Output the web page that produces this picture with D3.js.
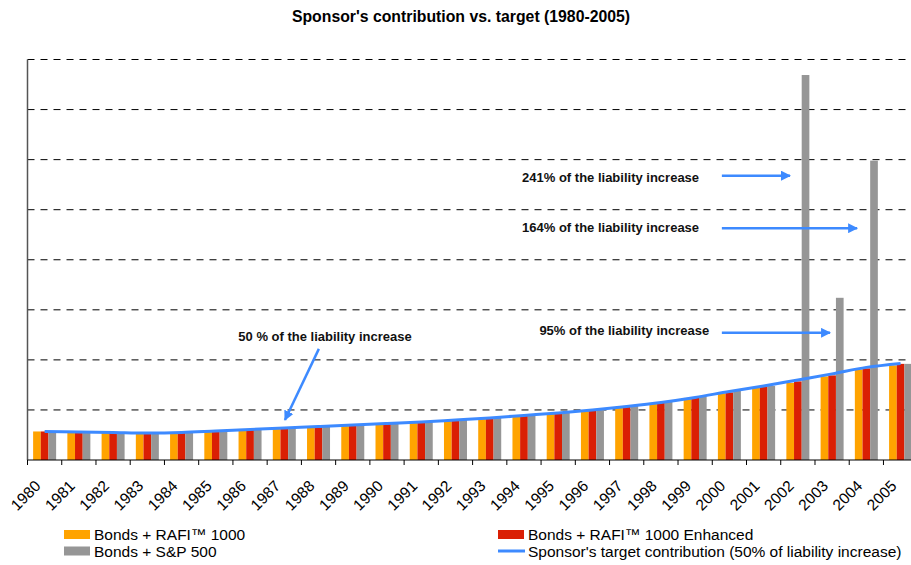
<!DOCTYPE html>
<html>
<head>
<meta charset="utf-8">
<script src="https://cdn.jsdelivr.net/npm/d3@7"></script>
<style>
  body { margin: 0; background: #fff; }
  svg { font-family: Arial, "Liberation Sans", sans-serif; }
</style>
</head>
<body>
<svg id="chart" width="911" height="565"></svg>
<script>
// categories
const years = d3.range(1980, 2006).map(String);
const seriesKeys = ["rafi", "enhanced", "sp500"];
const seriesNames = ["Bonds + RAFI\u2122 1000", "Bonds + RAFI\u2122 1000 Enhanced", "Bonds + S&P 500"];
const seriesColors = ["#FFA300", "#DA1F04", "#969696"];

// values, in units of one gridline step (axis has no labels)
const rafi =     [0.57,0.57,0.54,0.54,0.56,0.59,0.62,0.64,0.66,0.69,0.72,0.75,0.79,0.82,0.88,0.92,0.99,1.06,1.14,1.24,1.33,1.45,1.54,1.67,1.81,1.89];
const enhanced = [0.57,0.57,0.54,0.54,0.56,0.59,0.62,0.64,0.67,0.70,0.73,0.76,0.80,0.84,0.89,0.94,1.00,1.08,1.15,1.25,1.35,1.47,1.57,1.69,1.83,1.92];
const sp500 =    [0.57,0.57,0.54,0.54,0.56,0.59,0.63,0.65,0.68,0.71,0.74,0.77,0.81,0.85,0.90,0.95,1.02,1.09,1.17,1.27,1.38,1.48,7.69,3.24,5.98,1.92];
const target =   [0.57,0.56,0.55,0.54,0.55,0.58,0.61,0.64,0.67,0.70,0.73,0.76,0.80,0.84,0.89,0.94,1.00,1.07,1.15,1.25,1.37,1.48,1.60,1.72,1.85,1.93];
const gridTicks = [1,2,3,4,5,6,7,8];

// annotations: slot index (x) and value (y)
const notes = [
  {text: "50 % of the liability increase", tx: 8.69, ty: 2.46, x1: 8.51, y1: 2.22, x2: 7.52, y2: 0.80},
  {text: "241% of the liability increase", tx: 17.03, ty: 5.65, x1: 20.28, y1: 5.68, x2: 22.27, y2: 5.68},
  {text: "164% of the liability increase", tx: 17.03, ty: 4.64, x1: 20.28, y1: 4.63, x2: 24.23, y2: 4.63},
  {text: "95% of the liability increase", tx: 17.43, ty: 2.58, x1: 20.28, y1: 2.54, x2: 23.44, y2: 2.54}
];

const rows = years.map((y, i) => ({year: y, rafi: rafi[i], enhanced: enhanced[i], sp500: sp500[i], target: target[i]}));

const svg = d3.select("#chart");
const plotLeft = 27.5, plotRight = 917.7, plotTop = 59.5, plotBottom = 460;

const xSlot = d3.scaleBand().domain(years).range([plotLeft, plotRight]).padding(0);
const xIdx = d3.scaleLinear().domain([0, years.length]).range([plotLeft, plotRight]);
const groupW = 23;
const xSub = d3.scaleBand().domain(seriesKeys).range([(xSlot.bandwidth() - groupW) / 2, (xSlot.bandwidth() + groupW) / 2]);
const y = d3.scaleLinear().domain([0, 8]).range([plotBottom, plotTop]);
const color = d3.scaleOrdinal().domain(seriesKeys).range(seriesColors);

// title
svg.append("text").attr("x", 461).attr("y", 22).attr("text-anchor", "middle")
  .attr("font-size", 15.8).attr("font-weight", "bold").text("Sponsor's contribution vs. target (1980-2005)");

// gridlines
svg.append("g").selectAll("line").data(gridTicks).join("line")
  .attr("x1", plotLeft).attr("x2", 911)
  .attr("y1", d => y(d)).attr("y2", d => y(d))
  .attr("stroke", "#000").attr("stroke-width", 1).attr("stroke-dasharray", "7,6");

// bars
svg.append("g").selectAll("g").data(rows).join("g")
  .attr("transform", d => "translate(" + xSlot(d.year) + ",0)")
  .selectAll("rect").data(d => seriesKeys.map(k => ({key: k, value: d[k]}))).join("rect")
  .attr("x", d => xSub(d.key)).attr("width", xSub.bandwidth())
  .attr("y", d => y(d.value)).attr("height", d => y(0) - y(d.value))
  .attr("fill", d => color(d.key));

// target line
svg.append("path").datum(rows)
  .attr("fill", "none").attr("stroke", "#3D8AFF").attr("stroke-width", 3)
  .attr("d", d3.line().x(d => xSlot(d.year) + xSlot.bandwidth() / 2).y(d => y(d.target)).curve(d3.curveMonotoneX));

// axes
svg.append("line").attr("x1", plotLeft).attr("x2", plotLeft).attr("y1", plotTop).attr("y2", plotBottom)
  .attr("stroke", "#555").attr("stroke-width", 1.5);
const xAxis = svg.append("g");
xAxis.append("line").attr("x1", plotLeft).attr("x2", 911).attr("y1", plotBottom).attr("y2", plotBottom).attr("stroke", "#000");
xAxis.selectAll("line.tick").data(years).join("line").attr("class", "tick")
  .attr("x1", d => xSlot(d)).attr("x2", d => xSlot(d))
  .attr("y1", plotBottom).attr("y2", plotBottom + 5).attr("stroke", "#000");
xAxis.selectAll("text").data(years).join("text")
  .attr("transform", d => "translate(" + (xSlot(d) + xSlot.bandwidth() / 2 - 3) + "," + (plotBottom + 27) + ") rotate(-45)")
  .attr("text-anchor", "end").attr("font-size", 15.5).attr("fill", "#000").text(d => d);

// annotations
const defs = svg.append("defs");
defs.append("marker").attr("id", "arrow").attr("viewBox", "0 0 10 10")
  .attr("refX", 9).attr("refY", 5).attr("markerWidth", 4).attr("markerHeight", 4)
  .attr("orient", "auto").attr("markerUnits", "strokeWidth")
  .append("path").attr("d", "M0,0L10,5L0,10z").attr("fill", "#3D8AFF");
const ann = svg.append("g");
ann.selectAll("text").data(notes).join("text")
  .attr("x", d => xIdx(d.tx)).attr("y", d => y(d.ty)).attr("dy", "0.35em")
  .attr("text-anchor", "middle").attr("font-size", 13).attr("font-weight", "bold").attr("fill", "#111")
  .text(d => d.text);
ann.selectAll("line").data(notes).join("line")
  .attr("x1", d => xIdx(d.x1)).attr("y1", d => y(d.y1))
  .attr("x2", d => xIdx(d.x2)).attr("y2", d => y(d.y2))
  .attr("stroke", "#3D8AFF").attr("stroke-width", 2.5).attr("marker-end", "url(#arrow)");

// legend
const legendItems = [
  {name: seriesNames[0], key: "rafi", x: 64, y: 530},
  {name: seriesNames[1], key: "enhanced", x: 498, y: 530},
  {name: seriesNames[2], key: "sp500", x: 64, y: 546.5},
  {name: "Sponsor's target contribution (50% of liability increase)", key: "line", x: 498, y: 546.5}
];
const lg = svg.append("g").selectAll("g").data(legendItems).join("g")
  .attr("transform", d => "translate(" + d.x + "," + d.y + ")");
lg.filter(d => d.key !== "line").append("rect").attr("width", 26).attr("height", 9).attr("fill", d => color(d.key));
lg.filter(d => d.key === "line").append("line").attr("x1", 0).attr("x2", 27).attr("y1", 4.5).attr("y2", 4.5)
  .attr("stroke", "#3D8AFF").attr("stroke-width", 3);
lg.append("text").attr("x", 30).attr("y", 4.5).attr("dy", "0.36em").attr("font-size", 15.5).attr("fill", "#000")
  .text(d => d.name);
</script>
</body>
</html>
